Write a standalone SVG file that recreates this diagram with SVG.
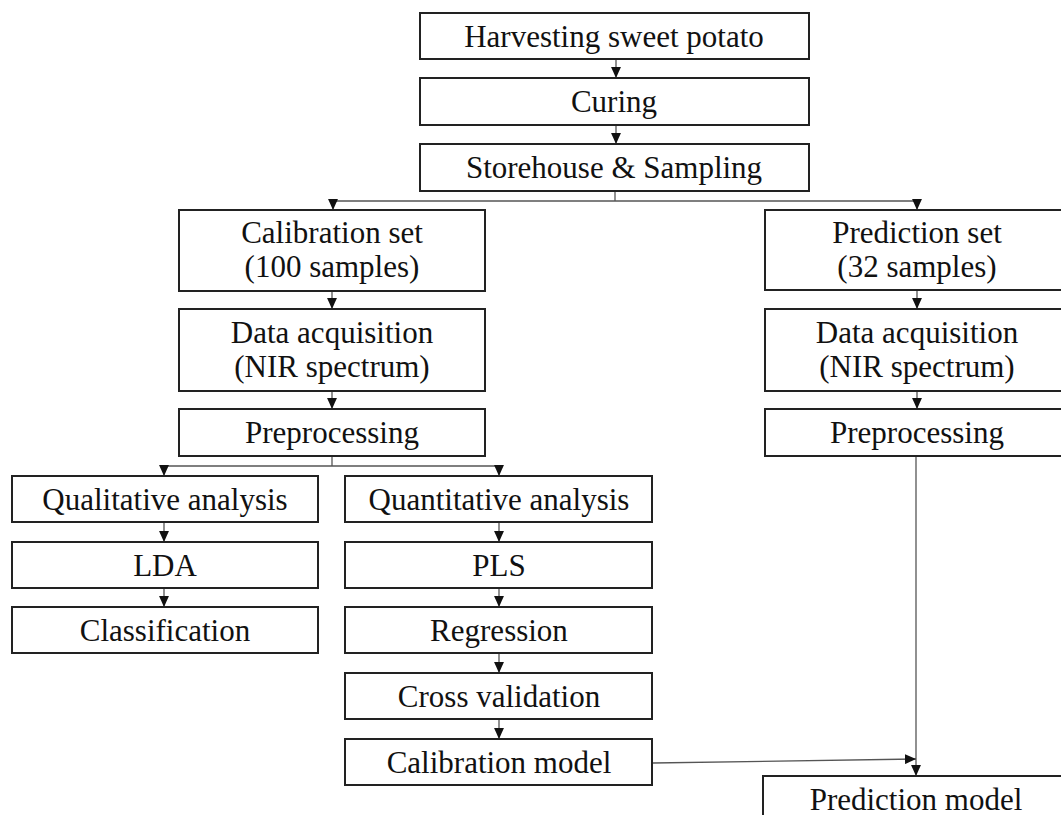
<svg xmlns="http://www.w3.org/2000/svg" width="1061" height="815" viewBox="0 0 1061 815">
<style>
.box{fill:#fff;stroke:#222;stroke-width:2}
.t{font-family:"Liberation Serif","Times New Roman",serif;font-size:31px;fill:#111;text-anchor:middle}
.c{fill:none;stroke:#555;stroke-width:1.3}
.a{marker-end:url(#ah)}
</style>
<defs>
<marker id="ah" markerUnits="userSpaceOnUse" markerWidth="11" markerHeight="10" refX="10" refY="4.5" orient="auto" viewBox="0 0 10 9">
<path d="M0,0 L10,4.5 L0,9 z" fill="#111"/>
</marker>
</defs>
<rect width="1061" height="815" fill="#fff"/>
<g id="connectors">
<line class="c a" x1="616" y1="59" x2="616" y2="78"/>
<line class="c a" x1="616" y1="125" x2="616" y2="144"/>
<line class="c" x1="615" y1="191" x2="615" y2="201"/>
<line class="c" x1="333" y1="201" x2="917" y2="201"/>
<line class="c a" x1="333" y1="201" x2="333" y2="210"/>
<line class="c a" x1="917" y1="201" x2="917" y2="210"/>
<line class="c a" x1="332" y1="291" x2="332" y2="309"/>
<line class="c a" x1="332" y1="391" x2="332" y2="409"/>
<line class="c" x1="332" y1="456" x2="332" y2="466"/>
<line class="c" x1="164" y1="466" x2="499" y2="466"/>
<line class="c a" x1="164" y1="466" x2="164" y2="476"/>
<line class="c a" x1="499" y1="466" x2="499" y2="476"/>
<line class="c a" x1="164" y1="522" x2="164" y2="542"/>
<line class="c a" x1="164" y1="588" x2="164" y2="607"/>
<line class="c a" x1="499" y1="522" x2="499" y2="542"/>
<line class="c a" x1="499" y1="588" x2="499" y2="607"/>
<line class="c a" x1="499" y1="653" x2="499" y2="673"/>
<line class="c a" x1="499" y1="719" x2="499" y2="739"/>
<line class="c a" x1="917" y1="290" x2="917" y2="309"/>
<line class="c a" x1="917" y1="391" x2="917" y2="409"/>
<line class="c a" x1="916" y1="456" x2="916" y2="776"/>
<line class="c a" x1="653" y1="763" x2="916" y2="759"/>
</g>
<g id="n_harvest"><rect class="box" x="420" y="13" width="389" height="46"/><text class="t" x="614" y="47">Harvesting sweet potato</text></g>
<g id="n_curing"><rect class="box" x="420" y="78" width="389" height="47"/><text class="t" x="614" y="112">Curing</text></g>
<g id="n_store"><rect class="box" x="420" y="144" width="389" height="47"/><text class="t" x="614" y="178">Storehouse &amp; Sampling</text></g>
<g id="n_calset"><rect class="box" x="179" y="210" width="306" height="81"/><text class="t" x="332" y="243">Calibration set</text><text class="t" x="332" y="277">(100 samples)</text></g>
<g id="n_calacq"><rect class="box" x="179" y="309" width="306" height="82"/><text class="t" x="332" y="343">Data acquisition</text><text class="t" x="332" y="377">(NIR spectrum)</text></g>
<g id="n_calpre"><rect class="box" x="179" y="409" width="306" height="47"/><text class="t" x="332" y="443">Preprocessing</text></g>
<g id="n_predset"><rect class="box" x="765" y="210" width="305" height="80"/><text class="t" x="917" y="243">Prediction set</text><text class="t" x="917" y="277">(32 samples)</text></g>
<g id="n_predacq"><rect class="box" x="765" y="309" width="305" height="82"/><text class="t" x="917" y="343">Data acquisition</text><text class="t" x="917" y="377">(NIR spectrum)</text></g>
<g id="n_predpre"><rect class="box" x="765" y="409" width="305" height="47"/><text class="t" x="917" y="443">Preprocessing</text></g>
<g id="n_qual"><rect class="box" x="12" y="476" width="306" height="46"/><text class="t" x="165" y="510">Qualitative analysis</text></g>
<g id="n_lda"><rect class="box" x="12" y="542" width="306" height="46"/><text class="t" x="165" y="576">LDA</text></g>
<g id="n_class"><rect class="box" x="12" y="607" width="306" height="46"/><text class="t" x="165" y="641">Classification</text></g>
<g id="n_quant"><rect class="box" x="345" y="476" width="307" height="46"/><text class="t" x="499" y="510">Quantitative analysis</text></g>
<g id="n_pls"><rect class="box" x="345" y="542" width="307" height="46"/><text class="t" x="499" y="576">PLS</text></g>
<g id="n_reg"><rect class="box" x="345" y="607" width="307" height="46"/><text class="t" x="499" y="641">Regression</text></g>
<g id="n_cv"><rect class="box" x="345" y="673" width="307" height="46"/><text class="t" x="499" y="707">Cross validation</text></g>
<g id="n_calmodel"><rect class="box" x="345" y="739" width="307" height="46"/><text class="t" x="499" y="773">Calibration model</text></g>
<g id="n_predmodel"><rect class="box" x="763" y="776" width="307" height="60"/><text class="t" x="916" y="810">Prediction model</text></g>
</svg>
